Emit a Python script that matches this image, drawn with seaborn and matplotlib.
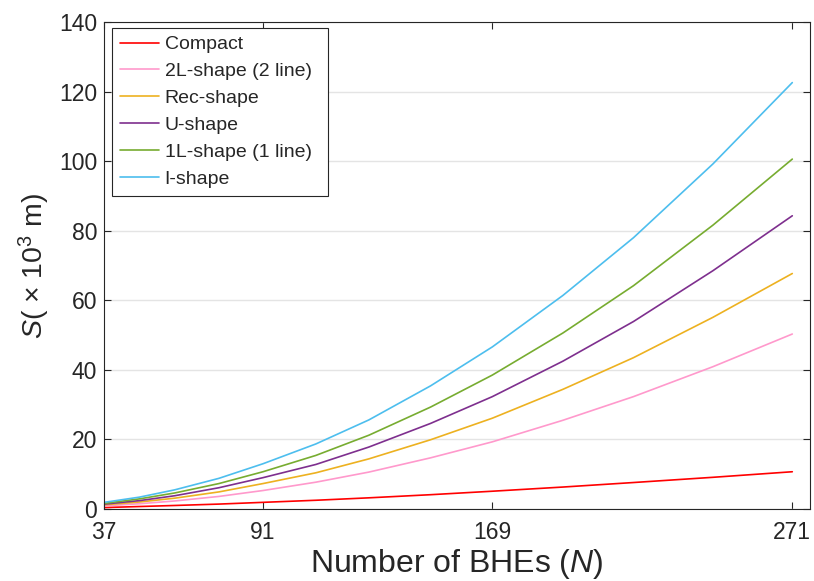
import pandas as pd
import matplotlib
matplotlib.use("Agg")
from matplotlib import pyplot as plt
import seaborn as sns

# values (S in 10^3 m)
n_bhe = [37, 49, 61, 76, 91, 109, 127, 148, 169, 193, 217, 244, 271]
compact = [0.4, 0.7, 1.0, 1.4, 1.9, 2.5, 3.2, 4.1, 5.1, 6.3, 7.6, 9.1, 10.7]
l2_shape = [0.9, 1.5, 2.3, 3.6, 5.3, 7.7, 10.6, 14.7, 19.3, 25.5, 32.3, 40.9, 50.3]
rec_shape = [1.2, 2.0, 3.1, 4.9, 7.3, 10.4, 14.4, 19.9, 26.1, 34.4, 43.5, 55.1, 67.7]
u_shape = [1.4, 2.4, 3.8, 6.1, 9.0, 12.8, 17.8, 24.6, 32.3, 42.5, 53.9, 68.5, 84.3]
l1_shape = [1.6, 2.9, 4.6, 7.3, 10.7, 15.4, 21.2, 29.3, 38.5, 50.6, 64.2, 81.6, 100.6]
i_shape = [1.9, 3.4, 5.5, 8.8, 13.0, 18.7, 25.6, 35.4, 46.6, 61.4, 78.0, 99.2, 122.6]

shapes = ["Compact", "2L-shape (2 line)", "Rec-shape", "U-shape",
          "1L-shape (1 line)", "I-shape"]
series = [compact, l2_shape, rec_shape, u_shape, l1_shape, i_shape]
colors = ["#FF0000", "#FF99CC", "#EDB120", "#7E2F8E", "#77AC30", "#4DBEEE"]
xticks = [37, 91, 169, 271]

df = pd.concat([pd.DataFrame({"N": n_bhe, "S": s, "shape": name})
                for name, s in zip(shapes, series)], ignore_index=True)

sns.set_theme(style="white")
plt.rcParams["font.family"] = ["Liberation Sans", "DejaVu Sans"]
plt.rcParams["mathtext.fontset"] = "custom"
plt.rcParams["mathtext.rm"] = "Liberation Sans"
plt.rcParams["mathtext.it"] = "Liberation Sans:italic"

fig = plt.figure(figsize=(8.14, 5.81), dpi=100)
ax = fig.add_axes([0.128, 0.124, 0.867, 0.838])

sns.lineplot(data=df, x="N", y="S", hue="shape", hue_order=shapes,
             palette=colors, linewidth=1.2, ax=ax)

ax.set_xlim(37, 277)
ax.set_ylim(0, 140)
ax.set_xticks(xticks)
ax.set_yticks(range(0, 141, 20))
ax.set_axisbelow(True)
ax.yaxis.grid(True, color="#e4e4e4", linewidth=1.0)
ax.xaxis.grid(False)

for sp in ax.spines.values():
    sp.set_color("#262626")
    sp.set_linewidth(0.8)
ax.tick_params(direction="in", bottom=True, left=True, top=True, right=True,
               length=5, width=0.8, color="#262626", labelcolor="#262626",
               labelsize=16.5)
ax.tick_params(axis="x", pad=9)
ax.tick_params(axis="y", pad=5)

ax.set_xlabel(r"Number of BHEs ($N$)", fontsize=23, color="#262626", labelpad=2)
ax.set_ylabel(r"$S$( × 10$^3$ m)", fontsize=20.5, color="#262626", labelpad=5)

leg = ax.legend(loc="upper left", bbox_to_anchor=(0.0113, 0.0, 0.306, 0.988),
                mode="expand", borderaxespad=0, fontsize=14, frameon=True,
                fancybox=False, framealpha=1, edgecolor="#262626",
                labelspacing=0.48, handlelength=2.0, handletextpad=0.3,
                borderpad=0.4)
leg.get_frame().set_linewidth(0.8)
for line in leg.get_lines():
    line.set_linewidth(1.2)

fig.savefig("out.png", dpi=100)
